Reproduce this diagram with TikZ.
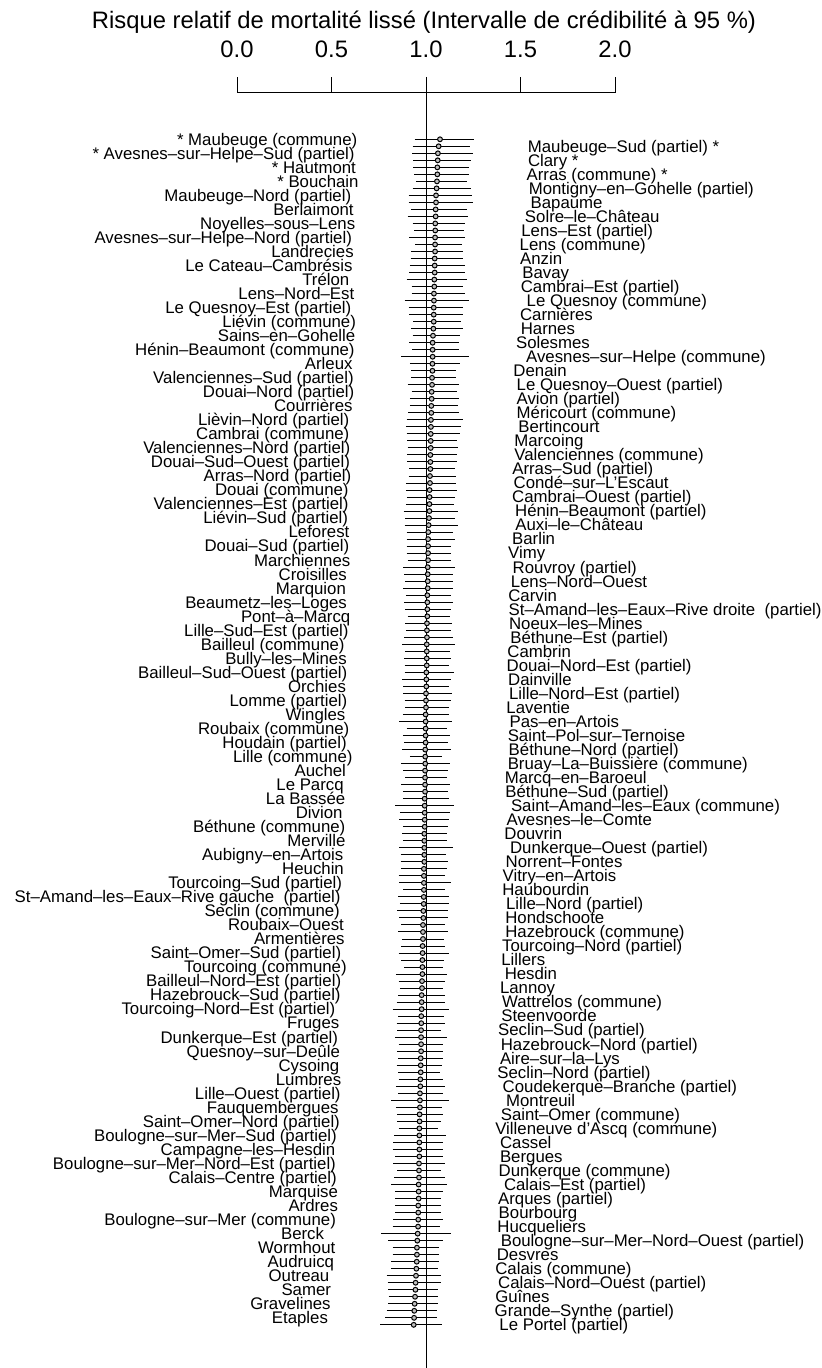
\documentclass[tikz,border=0pt]{standalone}
\usepackage{fontspec}
\setmainfont{Liberation Sans}
\tikzset{
  ci/.style={line width=0.5pt},
  rrdot/.style={draw, fill=gray!50, line width=0.5pt},
  lab/.style={inner sep=0pt, font=\fontsize{8.4}{10}\selectfont},
  big/.style={inner sep=0pt, font=\fontsize{11.9}{14}\selectfont},
}
\begin{document}
\begin{tikzpicture}[x=0.5pt,y=-0.5pt]
	\useasboundingbox (0,0) rectangle (822,1368);
	\node[big, anchor=base] (titre) at (424,28.5) {Risque relatif de mortalité lissé (Intervalle de crédibilité à 95 \%)};

	\begin{scope}[x=94.5pt, xshift=118.5pt]
		\draw[ci] (0,93) -- (2,93);
		\foreach \t [count=\n] in {0.0,0.5,1.0,1.5,2.0}{
			\draw[ci] (\t,93) -- (\t,77);
			\node[big, anchor=base] (tick\n) at (\t,58) {\t};
		}
		\draw[ci] (1,77) -- (1,1368);

		\foreach \lo/\rr/\hi/\name [count=\k from 0] in {
			0.940/1.074/1.252/* Maubeuge (commune),
			0.926/1.063/1.247/* Avesnes–sur–Helpe–Sud (partiel),
			0.933/1.060/1.229/* Hautmont,
			0.947/1.058/1.215/* Bouchain,
			0.908/1.053/1.243/Maubeuge–Nord (partiel),
			0.921/1.051/1.215/Berlaimont,
			0.929/1.049/1.205/Noyelles–sous–Lens,
			0.912/1.048/1.208/Avesnes–sur–Helpe–Nord (partiel),
			0.921/1.048/1.196/Landrecies,
			0.915/1.046/1.208/Le Cateau–Cambrésis,
			0.898/1.044/1.215/Trélon,
			0.924/1.042/1.206/Lens–Nord–Est,
			0.908/1.041/1.194/Le Quesnoy–Est (partiel),
			0.933/1.041/1.185/Liévin (commune),
			0.929/1.037/1.182/Sains–en–Gohelle,
			0.926/1.035/1.173/Hénin–Beaumont (commune),
			0.915/1.034/1.180/Arleux,
			0.921/1.032/1.160/Valenciennes–Sud (partiel),
			0.924/1.030/1.166/Douai–Nord (partiel),
			0.915/1.028/1.168/Courrières,
			0.898/1.026/1.194/Lièvin–Nord (partiel),
			0.898/1.025/1.178/Cambrai (commune),
			0.903/1.025/1.171/Valenciennes–Nord (partiel),
			0.901/1.023/1.164/Douai–Sud–Ouest (partiel),
			0.908/1.021/1.159/Arras–Nord (partiel),
			0.894/1.019/1.164/Douai (commune),
			0.894/1.018/1.148/Valenciennes–Est (partiel),
			0.891/1.016/1.155/Liévin–Sud (partiel),
			0.898/1.012/1.141/Leforest,
			0.898/1.011/1.132/Douai–Sud (partiel),
			0.903/1.011/1.134/Marchiennes,
			0.885/1.009/1.141/Croisilles,
			0.880/1.009/1.141/Marquion,
			0.885/1.007/1.145/Beaumetz–les–Loges,
			0.903/1.007/1.127/Pont–à–Marcq,
			0.894/1.005/1.134/Lille–Sud–Est (partiel),
			0.873/1.004/1.155/Bailleul (commune),
			0.884/1.004/1.131/Bully–les–Mines,
			0.887/1.002/1.148/Bailleul–Sud–Ouest (partiel),
			0.880/1.002/1.122/Orchies,
			0.887/1.000/1.134/Lomme (partiel),
			0.877/0.998/1.120/Wingles,
			0.898/0.998/1.109/Roubaix (commune),
			0.884/0.998/1.118/Houdain (partiel),
			0.915/0.996/1.085/Lille (commune),
			0.880/0.995/1.116/Auchel,
			0.868/0.995/1.129/Le Parcq,
			0.877/0.993/1.120/La Bassée,
			0.862/0.993/1.127/Divion,
			0.877/0.993/1.115/Béthune (commune),
			0.877/0.991/1.109/Merville,
			0.866/0.991/1.106/Aubigny–en–Artois,
			0.869/0.989/1.113/Heuchin,
			0.859/0.989/1.131/Tourcoing–Sud (partiel),
			0.852/0.988/1.120/St–Amand–les–Eaux–Rive gauche \ (partiel),
			0.848/0.986/1.116/Seclin (commune),
			0.869/0.984/1.102/Roubaix–Ouest,
			0.873/0.984/1.095/Armentières,
			0.855/0.982/1.120/Saint–Omer–Sud (partiel),
			0.884/0.981/1.088/Tourcoing (commune),
			0.855/0.979/1.099/Bailleul–Nord–Est (partiel),
			0.852/0.977/1.102/Hazebrouck–Sud (partiel),
			0.824/0.977/1.120/Tourcoing–Nord–Est (partiel),
			0.845/0.975/1.099/Fruges,
			0.838/0.974/1.109/Dunkerque–Est (partiel),
			0.848/0.974/1.088/Quesnoy–sur–Deûle,
			0.845/0.972/1.085/Cysoing,
			0.855/0.970/1.092/Lumbres,
			0.852/0.968/1.088/Lille–Ouest (partiel),
			0.841/0.968/1.085/Fauquembergues,
			0.848/0.966/1.081/Saint–Omer–Nord (partiel),
			0.832/0.965/1.106/Boulogne–sur–Mer–Sud (partiel),
			0.824/0.965/1.092/Campagne–les–Hesdin,
			0.827/0.963/1.102/Boulogne–sur–Mer–Nord–Est (partiel),
			0.831/0.963/1.099/Calais–Centre (partiel),
			0.838/0.961/1.092/Marquise,
			0.838/0.959/1.081/Ardres,
			0.827/0.959/1.088/Boulogne–sur–Mer (commune),
			0.764/0.956/1.134/Berck,
			0.824/0.952/1.067/Wormhout,
			0.817/0.951/1.067/Audruicq,
			0.792/0.947/1.079/Outreau,
			0.801/0.944/1.063/Samer,
			0.799/0.940/1.063/Gravelines,
			0.785/0.937/1.060/Etaples}{
			\pgfmathsetmacro\yy{139.3+14.03*\k}
			\draw[ci] (\lo,\yy) -- (\hi,\yy);
			\filldraw[rrdot] (\rr,\yy) circle[radius=1.2pt];
			\node[lab, anchor=base east, xshift=-28.5pt] (g\k) at (\lo,\yy+5.8) {\name};
		}

		\foreach \lo/\rr/\hi/\name [count=\k from 0] in {
			0.929/1.067/1.235/Maubeuge–Sud (partiel) *,
			0.933/1.062/1.236/Clary *,
			0.938/1.060/1.229/Arras (commune) *,
			0.929/1.056/1.240/Montigny–en–Gohelle (partiel),
			0.908/1.053/1.250/Bapaume,
			0.903/1.051/1.220/Solre–le–Château,
			0.938/1.049/1.201/Lens–Est (partiel),
			0.942/1.048/1.192/Lens (commune),
			0.919/1.046/1.194/Anzin,
			0.912/1.046/1.206/Bavay,
			0.924/1.044/1.198/Cambrai–Est (partiel),
			0.887/1.042/1.229/Le Quesnoy (commune),
			0.912/1.041/1.194/Carnières,
			0.921/1.039/1.198/Harnes,
			0.912/1.035/1.173/Solesmes,
			0.869/1.035/1.226/Avesnes–sur–Helpe (commune),
			0.922/1.034/1.159/Denain,
			0.903/1.032/1.176/Le Quesnoy–Ouest (partiel),
			0.915/1.030/1.176/Avion (partiel),
			0.905/1.028/1.176/Méricourt (commune),
			0.894/1.026/1.185/Bertincourt,
			0.901/1.025/1.164/Marcoing,
			0.901/1.023/1.164/Valenciennes (commune),
			0.912/1.023/1.153/Arras–Sud (partiel),
			0.894/1.021/1.160/Condé–sur–L'Escaut,
			0.899/1.019/1.152/Cambrai–Ouest (partiel),
			0.882/1.018/1.168/Hénin–Beaumont (partiel),
			0.887/1.014/1.169/Auxi–le–Château,
			0.898/1.011/1.152/Barlin,
			0.898/1.011/1.131/Vimy,
			0.880/1.009/1.155/Rouvroy (partiel),
			0.891/1.009/1.145/Lens–Nord–Ouest,
			0.894/1.007/1.132/Carvin,
			0.891/1.007/1.134/St–Amand–les–Eaux–Rive droite \ (partiel),
			0.891/1.005/1.136/Noeux–les–Mines,
			0.885/1.005/1.143/Béthune–Est (partiel),
			0.891/1.004/1.127/Cambrin,
			0.887/1.004/1.123/Douai–Nord–Est (partiel),
			0.873/1.002/1.131/Dainville,
			0.880/1.000/1.136/Lille–Nord–Est (partiel),
			0.891/1.000/1.122/Laventie,
			0.859/0.998/1.139/Pas–en–Artois,
			0.877/0.998/1.129/Saint–Pol–sur–Ternoise,
			0.873/0.996/1.134/Béthune–Nord (partiel),
			0.868/0.996/1.129/Bruay–La–Buissière (commune),
			0.891/0.995/1.113/Marcq–en–Baroeul,
			0.877/0.995/1.116/Béthune–Sud (partiel),
			0.836/0.993/1.146/Saint–Amand–les–Eaux (commune),
			0.859/0.993/1.123/Avesnes–le–Comte,
			0.873/0.991/1.111/Douvrin,
			0.859/0.991/1.141/Dunkerque–Ouest (partiel),
			0.866/0.991/1.118/Norrent–Fontes,
			0.855/0.989/1.102/Vitry–en–Artois,
			0.880/0.989/1.100/Haubourdin,
			0.862/0.988/1.120/Lille–Nord (partiel),
			0.859/0.986/1.116/Hondschoote,
			0.852/0.984/1.116/Hazebrouck (commune),
			0.868/0.982/1.099/Tourcoing–Nord (partiel),
			0.868/0.981/1.095/Lillers,
			0.841/0.981/1.113/Hesdin,
			0.862/0.979/1.088/Lannoy,
			0.845/0.977/1.099/Wattrelos (commune),
			0.852/0.975/1.095/Steenvoorde,
			0.848/0.974/1.078/Seclin–Sud (partiel),
			0.855/0.974/1.092/Hazebrouck–Nord (partiel),
			0.852/0.972/1.088/Aire–sur–la–Lys,
			0.852/0.972/1.074/Seclin–Nord (partiel),
			0.841/0.970/1.102/Coudekerque–Branche (partiel),
			0.817/0.968/1.120/Montreuil,
			0.848/0.966/1.092/Saint–Omer (commune),
			0.855/0.965/1.063/Villeneuve d'Ascq (commune),
			0.827/0.965/1.088/Cassel,
			0.838/0.965/1.088/Bergues,
			0.848/0.963/1.081/Dunkerque (commune),
			0.817/0.961/1.109/Calais–Est (partiel),
			0.838/0.961/1.078/Arques (partiel),
			0.838/0.959/1.081/Bourbourg,
			0.824/0.958/1.074/Hucqueliers,
			0.801/0.954/1.092/Boulogne–sur–Mer–Nord–Ouest (partiel),
			0.824/0.952/1.071/Desvres,
			0.817/0.949/1.063/Calais (commune),
			0.797/0.945/1.078/Calais–Nord–Ouest (partiel),
			0.802/0.942/1.063/Guînes,
			0.792/0.938/1.060/Grande–Synthe (partiel),
			0.757/0.935/1.085/Le Portel (partiel)}{
			\pgfmathsetmacro\yy{146.3+14.03*\k}
			\draw[ci] (\lo,\yy) -- (\hi,\yy);
			\filldraw[rrdot] (\rr,\yy) circle[radius=1.2pt];
			\node[lab, anchor=base west, xshift=28.5pt] (d\k) at (\hi,\yy+5.8) {\name};
		}
	\end{scope}
\end{tikzpicture}
\end{document}
